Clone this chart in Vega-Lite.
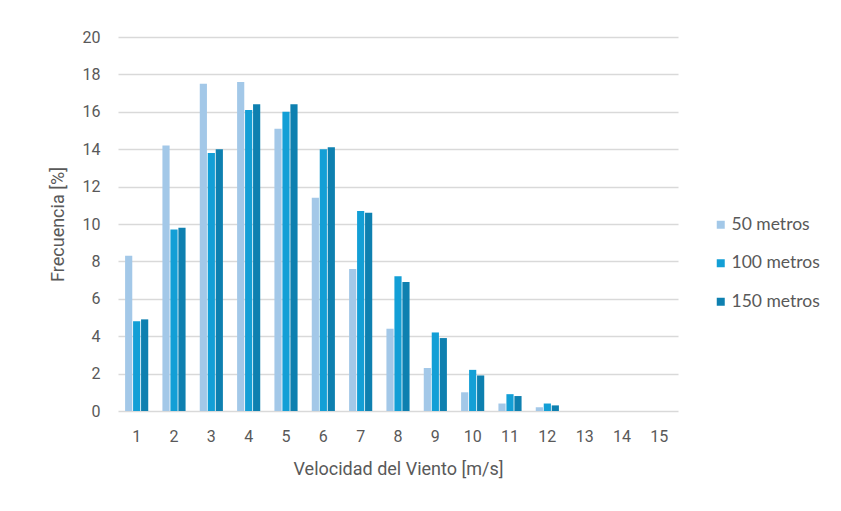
{
  "$schema": "https://vega.github.io/schema/vega-lite/v6.json",
  "width": 560,
  "height": 374,
  "autosize": "none",
  "padding": {"left": 118, "top": 37, "right": 163, "bottom": 100},
  "background": "white",
  "data": {
    "values": [
      {"v": 1, "serie": "50 metros", "f": 8.3}, {"v": 1, "serie": "100 metros", "f": 4.8}, {"v": 1, "serie": "150 metros", "f": 4.9},
      {"v": 2, "serie": "50 metros", "f": 14.2}, {"v": 2, "serie": "100 metros", "f": 9.7}, {"v": 2, "serie": "150 metros", "f": 9.8},
      {"v": 3, "serie": "50 metros", "f": 17.5}, {"v": 3, "serie": "100 metros", "f": 13.8}, {"v": 3, "serie": "150 metros", "f": 14.0},
      {"v": 4, "serie": "50 metros", "f": 17.6}, {"v": 4, "serie": "100 metros", "f": 16.1}, {"v": 4, "serie": "150 metros", "f": 16.4},
      {"v": 5, "serie": "50 metros", "f": 15.1}, {"v": 5, "serie": "100 metros", "f": 16.0}, {"v": 5, "serie": "150 metros", "f": 16.4},
      {"v": 6, "serie": "50 metros", "f": 11.4}, {"v": 6, "serie": "100 metros", "f": 14.0}, {"v": 6, "serie": "150 metros", "f": 14.1},
      {"v": 7, "serie": "50 metros", "f": 7.6}, {"v": 7, "serie": "100 metros", "f": 10.7}, {"v": 7, "serie": "150 metros", "f": 10.6},
      {"v": 8, "serie": "50 metros", "f": 4.4}, {"v": 8, "serie": "100 metros", "f": 7.2}, {"v": 8, "serie": "150 metros", "f": 6.9},
      {"v": 9, "serie": "50 metros", "f": 2.3}, {"v": 9, "serie": "100 metros", "f": 4.2}, {"v": 9, "serie": "150 metros", "f": 3.9},
      {"v": 10, "serie": "50 metros", "f": 1.0}, {"v": 10, "serie": "100 metros", "f": 2.2}, {"v": 10, "serie": "150 metros", "f": 1.9},
      {"v": 11, "serie": "50 metros", "f": 0.4}, {"v": 11, "serie": "100 metros", "f": 0.9}, {"v": 11, "serie": "150 metros", "f": 0.8},
      {"v": 12, "serie": "50 metros", "f": 0.2}, {"v": 12, "serie": "100 metros", "f": 0.4}, {"v": 12, "serie": "150 metros", "f": 0.3},
      {"v": 13, "serie": "50 metros", "f": 0}, {"v": 13, "serie": "100 metros", "f": 0}, {"v": 13, "serie": "150 metros", "f": 0},
      {"v": 14, "serie": "50 metros", "f": 0}, {"v": 14, "serie": "100 metros", "f": 0}, {"v": 14, "serie": "150 metros", "f": 0},
      {"v": 15, "serie": "50 metros", "f": 0}, {"v": 15, "serie": "100 metros", "f": 0}, {"v": 15, "serie": "150 metros", "f": 0}
    ]
  },
  "mark": {"type": "bar"},
  "encoding": {
    "x": {
      "field": "v",
      "type": "ordinal",
      "scale": {"paddingInner": 0.38, "paddingOuter": 0.19},
      "axis": {
        "title": "Velocidad del Viento [m/s]",
        "labelAngle": 0,
        "labelFontSize": 16,
        "labelColor": "#595959",
        "labelFont": "Liberation Sans Narrow, Roboto, sans-serif",
        "labelPadding": 17,
        "ticks": false,
        "domain": false,
        "titleFontSize": 18,
        "titleFontWeight": "normal",
        "titleColor": "#595959",
        "titleFont": "Liberation Sans Narrow, Roboto, sans-serif",
        "titlePadding": 16
      }
    },
    "xOffset": {
      "field": "serie",
      "type": "nominal",
      "sort": ["50 metros", "100 metros", "150 metros"],
      "scale": {"paddingInner": 0.1}
    },
    "y": {
      "field": "f",
      "type": "quantitative",
      "scale": {"domain": [0, 20]},
      "axis": {
        "title": "Frecuencia [%]",
        "values": [0, 2, 4, 6, 8, 10, 12, 14, 16, 18, 20],
        "labelFontSize": 16,
        "labelColor": "#595959",
        "labelFont": "Liberation Sans Narrow, Roboto, sans-serif",
        "labelPadding": 18,
        "ticks": false,
        "domain": false,
        "grid": true,
        "gridColor": "#D9D9D9",
        "gridWidth": 1.5,
        "titleFontSize": 18,
        "titleFontWeight": "normal",
        "titleColor": "#595959",
        "titleFont": "Roboto, sans-serif",
        "titlePadding": 15
      }
    },
    "color": {
      "field": "serie",
      "type": "nominal",
      "sort": ["50 metros", "100 metros", "150 metros"],
      "scale": {
        "domain": ["50 metros", "100 metros", "150 metros"],
        "range": ["#A3C8E8", "#139FD6", "#0E80B0"]
      },
      "legend": {
        "title": null,
        "orient": "none",
        "legendX": 594,
        "legendY": 179,
        "symbolType": "square",
        "symbolSize": 64,
        "symbolStrokeWidth": 0,
        "labelFontSize": 17.5,
        "labelColor": "#595959",
        "labelFont": "Lato, sans-serif",
        "labelOffset": 2,
        "rowPadding": 19.5
      }
    }
  },
  "config": {
    "view": {"stroke": null}
  }
}
